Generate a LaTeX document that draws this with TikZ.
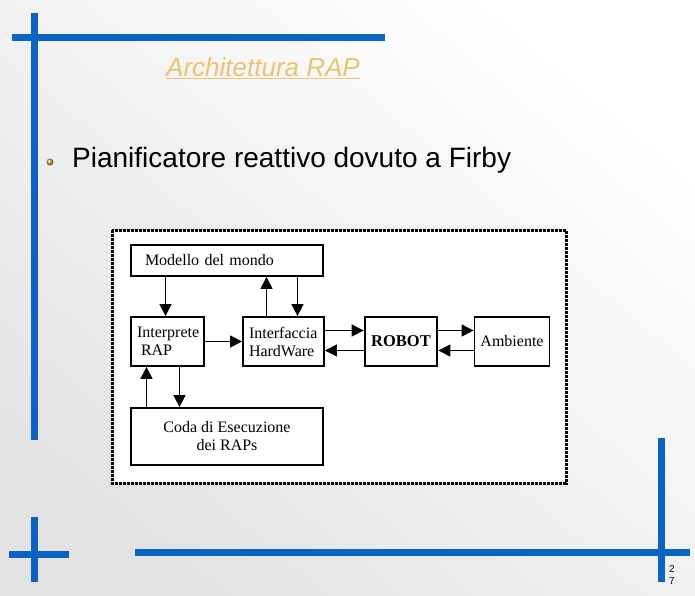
\documentclass[tikz,border=0pt]{standalone}
\usepackage{fontspec}
\setmainfont{Liberation Serif}
\newfontfamily\slidefont{Liberation Sans}
\usetikzlibrary{arrows.meta}
\definecolor{slideblue}{RGB}{10,100,195}
\definecolor{titlegold}{RGB}{236,196,112}
\definecolor{bulletgold}{RGB}{190,170,60}
\begin{document}
\begin{tikzpicture}[x=1pt,y=-1pt,>={Triangle[length=12pt,width=12pt]},
	bar/.style={slideblue,line width=7pt},
	block/.style={draw,line width=1.8pt,fill=white,font=\fontsize{16}{18}\selectfont,inner xsep=6pt,inner ysep=3pt},
	link/.style={->,line width=1.2pt}]
	\useasboundingbox (0,0) rectangle (695,595);
	\shade[top color=white,bottom color=gray!22,shading angle=-40] (0,0) rectangle (695,595);
	\draw[bar] (34,13)--(34,440) (12,37)--(385,37);
	\draw[bar] (34,517)--(34,582) (9,554)--(69,554);
	\draw[bar] (135,552)--(690,552) (661,438)--(661,582);
	\node[font=\slidefont\itshape\fontsize{26}{30}\selectfont,text=titlegold] (title) at (263,68) {\underline{Architettura RAP}};
	\shade[ball color=bulletgold] (50,162) circle (3.5);
	\node[font=\slidefont\fontsize{28}{32}\selectfont,anchor=base west,inner sep=0pt] (point) at (72,167) {Pianificatore reattivo dovuto a Firby};
	\draw[line width=3pt,densely dotted,fill=white] (112,230) rectangle (566,483);
	\node[block,minimum width=192pt,minimum height=31pt,text width=164pt,inner xsep=14pt,align=left] (modello) at (227,260.5) {Modello del mondo};
	\node[block,minimum width=73pt,minimum height=49pt,text width=61pt,align=left] (interprete) at (167.5,341.5) {Interprete\\\hspace*{4pt}RAP};
	\node[block,minimum width=81pt,minimum height=49pt,text width=69pt,align=left] (interfaccia) at (283.5,341.5) {Interfaccia\\HardWare};
	\node[block,line width=2.8pt,minimum width=72pt,minimum height=49pt,font=\bfseries\fontsize{16.5}{18}\selectfont] (robot) at (401,341.5) {ROBOT};
	\node[block,minimum width=74pt,minimum height=49pt] (ambiente) at (512,341.5) {Ambiente};
	\node[block,minimum width=192pt,minimum height=57pt,align=center] (coda) at (227,436.5) {Coda di Esecuzione\\dei RAPs};
	\draw[link] ([xshift=-2pt]interprete.north |- modello.south)--([xshift=-2pt]interprete.north);
	\draw[link] ([xshift=-17pt]interfaccia.north)--([xshift=-17pt]interfaccia.north |- modello.south);
	\draw[link] ([xshift=14pt]interfaccia.north |- modello.south)--([xshift=14pt]interfaccia.north);
	\draw[link] (interprete)--(interfaccia);
	\draw[link] ([yshift=11pt]interfaccia.east)--([yshift=11pt]robot.west);
	\draw[link] ([yshift=-9pt]robot.west)--([yshift=-9pt]interfaccia.east);
	\draw[link] ([yshift=11pt]robot.east)--([yshift=11pt]ambiente.west);
	\draw[link] ([yshift=-9pt]ambiente.west)--([yshift=-9pt]robot.east);
	\draw[link] ([xshift=-21pt]interprete.south |- coda.north)--([xshift=-21pt]interprete.south);
	\draw[link] ([xshift=12pt]interprete.south)--([xshift=12pt]interprete.south |- coda.north);
	\node[font=\slidefont\fontsize{10}{12}\selectfont,align=left] (pagenum) at (672,575) {2\\7};
\end{tikzpicture}
\end{document}
